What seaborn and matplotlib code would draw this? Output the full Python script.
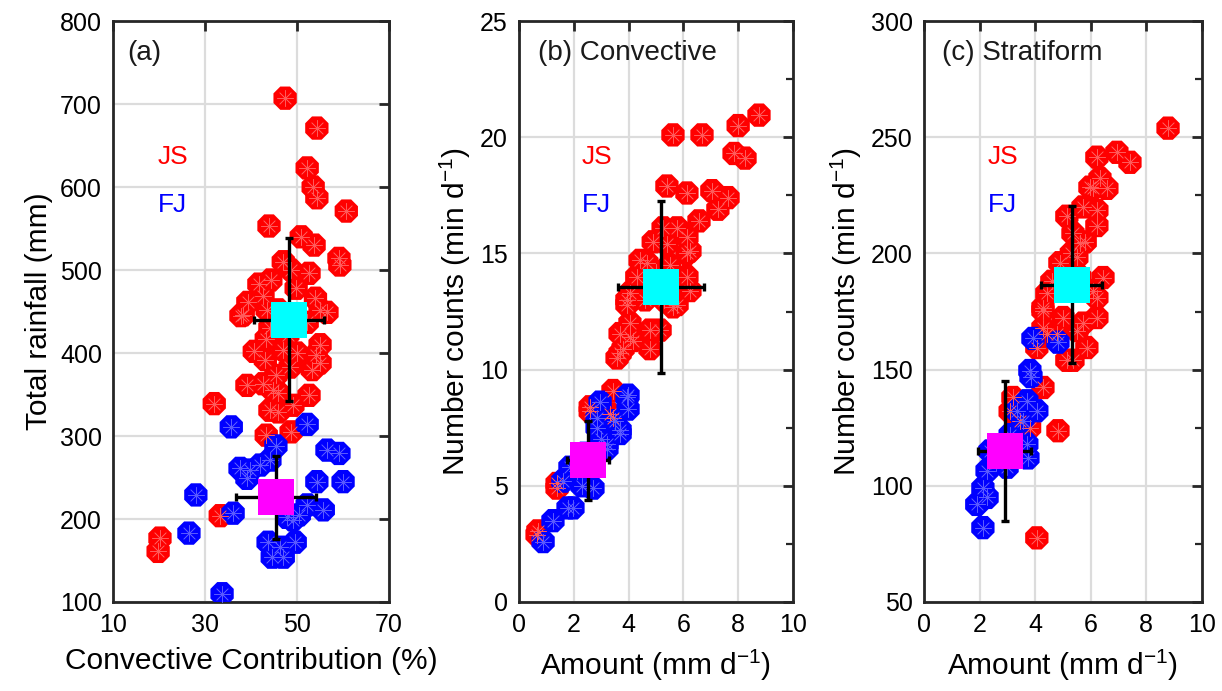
import numpy as np
import pandas as pd
import matplotlib
matplotlib.use("Agg")
import matplotlib.pyplot as plt
import seaborn as sns

# ---- data ----
# (a) convective contribution (%) vs total rainfall (mm)
a_js_x = [47.4, 54.3, 52.2, 53.5, 54.3, 60.7, 43.9, 50.9, 53.7, 59.1, 59.3, 47.0, 48.7, 52.6,
          44.3, 49.8, 54.0, 55.0, 41.7, 39.3, 42.6, 37.8, 45.9, 52.2, 44.1, 48.0, 55.0, 54.1,
          43.3, 40.7, 43.1, 48.5, 53.3, 45.4, 39.1, 45.9, 42.6, 52.6, 47.0, 44.1, 49.1, 43.3,
          48.7, 32.0, 33.3, 20.2, 19.8, 45.9, 55.0, 56.5, 43.5, 50.0, 44.8, 38.3]
a_js_y = [707, 671, 623, 600, 587, 571, 553, 540, 530, 514, 506, 510, 500, 496,
          488, 478, 466, 452, 483, 461, 469, 445, 452, 437, 430, 422, 410, 398,
          417, 402, 392, 383, 380, 373, 361, 352, 363, 349, 404, 331, 337, 301,
          305, 339, 204, 177, 161, 329, 388, 449, 452, 400, 355, 446]
a_fj_x = [33.7, 35.7, 52.2, 45.4, 37.6, 39.8, 42.0, 44.1, 39.1, 56.5, 59.1, 54.3, 60.0,
          28.0, 36.1, 26.5, 55.7, 52.2, 49.1, 47.8, 43.7, 49.6, 44.6, 47.0, 46.3, 50.5]
a_fj_y = [110, 311, 314, 288, 261, 259, 265, 271, 249, 283, 279, 245, 245,
          229, 207, 183, 211, 217, 199, 202, 172, 172, 154, 154, 166, 205]

# (b) convective amount (mm/d) vs number counts (min/d)
b_js_x = [8.76, 8.0, 5.62, 6.68, 7.85, 8.25, 5.4, 6.13, 7.04, 7.63, 7.26, 6.57, 5.77, 5.26,
          6.13, 5.4, 6.13, 4.67, 4.3, 6.13, 4.05, 6.24, 3.94, 5.77, 3.69, 4.78, 4.42, 3.94,
          4.05, 3.8, 3.58, 4.78, 4.16, 5.62, 5.15, 6.24, 3.69, 4.05, 3.43, 2.6, 3.32, 1.39,
          0.69, 2.6, 3.43, 0.66, 1.39, 5.0, 4.6, 5.3, 4.9, 5.5]
b_js_y = [20.95, 20.5, 20.1, 20.1, 19.3, 19.1, 17.9, 17.6, 17.7, 17.4, 16.9, 16.4, 16.1, 16.1,
          15.7, 15.4, 15.0, 14.6, 14.0, 14.0, 13.3, 13.4, 12.8, 12.8, 11.55, 11.7, 14.7, 13.0,
          12.0, 10.9, 10.5, 10.9, 11.25, 12.7, 11.7, 15.1, 10.7, 11.4, 9.1, 8.2, 8.1, 5.1,
          3.06, 8.4, 7.9, 2.9, 4.9, 14.2, 13.0, 13.0, 15.5, 14.5]
b_fj_x = [3.98, 3.98, 2.96, 3.69, 3.21, 2.85, 2.6, 2.7, 1.6, 2.1, 1.79, 1.24, 0.88,
          3.94, 3.69, 3.21, 1.97, 2.85, 1.86, 2.4, 3.0, 2.3, 3.5]
b_fj_y = [8.9, 8.3, 8.6, 7.4, 6.8, 7.5, 5.9, 4.9, 5.2, 5.65, 4.05, 3.5, 2.6,
          8.8, 7.25, 6.6, 4.05, 7.9, 5.8, 6.4, 7.0, 5.0, 7.8]

# (c) stratiform amount (mm/d) vs number counts (min/d)
c_js_x = [8.78, 6.22, 6.94, 7.41, 6.33, 6.08, 6.58, 6.22, 5.72, 5.14, 6.22, 5.36, 5.61, 4.89,
          5.5, 6.44, 6.22, 4.42, 4.28, 6.22, 5.0, 5.86, 4.28, 4.78, 5.5, 5.97, 5.72, 5.36,
          4.42, 6.08, 4.06, 4.28, 3.2, 3.45, 4.82, 4.06, 4.28, 3.1, 3.8, 5.14, 5.6, 4.6,
          5.3, 5.8]
c_js_y = [253.9, 241.4, 243.5, 239.2, 232.3, 228, 228, 218.5, 220, 216, 212, 208.6, 204.3, 196,
          198.3, 189.6, 181, 182.8, 176.7, 172.4, 172.4, 159.5, 168, 165.5, 166.8, 228.5, 170, 154,
          165.5, 184, 159.5, 142.3, 138, 128, 123.7, 77.6, 175.4, 132, 125, 154, 190, 188,
          200, 205]
c_fj_x = [3.92, 4.82, 3.81, 3.7, 3.34, 4.06, 3.56, 3.7, 3.74, 2.37, 2.27, 2.12, 1.9, 2.27,
          2.12, 2.99, 3.85, 2.6, 3.1]
c_fj_y = [163.4, 161.8, 149.6, 136.6, 132.3, 132.3, 128, 118, 112, 115, 106.5, 99, 92, 95,
          82, 108, 147, 110, 122]

# means and standard deviations (x, y, xerr, yerr)
a_js_mean = [48.3, 440, 7.6, 98]
a_fj_mean = [45.4, 226, 8.7, 50]
b_js_mean = [5.18, 13.55, 1.57, 3.7]
b_fj_mean = [2.52, 6.1, 0.78, 1.7]
c_js_mean = [5.32, 186.6, 1.1, 33.6]
c_fj_mean = [2.91, 115, 0.95, 30]

sns.set_style("white")
plt.rcParams['font.family'] = ['Liberation Sans', 'DejaVu Sans']
plt.rcParams['mathtext.fontset'] = 'custom'
plt.rcParams['mathtext.rm'] = 'Liberation Sans'

fig = plt.figure(figsize=(12.22, 6.91), dpi=100)
axes = [fig.add_axes([0.0925, 0.1288, 0.2259, 0.8408]),
        fig.add_axes([0.4247, 0.1288, 0.2242, 0.8408]),
        fig.add_axes([0.7561, 0.1288, 0.2275, 0.8408])]

panels = [
    (a_js_x, a_js_y, a_fj_x, a_fj_y, a_js_mean, a_fj_mean),
    (b_js_x, b_js_y, b_fj_x, b_fj_y, b_js_mean, b_fj_mean),
    (c_js_x, c_js_y, c_fj_x, c_fj_y, c_js_mean, c_fj_mean),
]
label_x = [0.163, 0.23, 0.23]

for ax, (jx, jy, fx, fy, jm, fm), lx in zip(axes, panels, label_x):
    df = pd.DataFrame({'x': jx + fx, 'y': jy + fy,
                       'region': ['JS'] * len(jx) + ['FJ'] * len(fx)})
    sns.scatterplot(data=df, x='x', y='y', hue='region', palette={'JS': 'red', 'FJ': 'blue'},
                    marker='8', s=330, linewidth=0, legend=False, ax=ax, zorder=3)
    # asterisk overlay like the original markers
    ax.scatter(jx, jy, marker=(8, 2, 0), s=130, color='#ff5a5a', linewidths=0.5, zorder=3)
    ax.scatter(fx, fy, marker=(8, 2, 0), s=130, color='#5a5aff', linewidths=0.5, zorder=3)
    for m, col in [(jm, 'cyan'), (fm, 'magenta')]:
        ax.errorbar(m[0], m[1], xerr=m[2], yerr=m[3], fmt='none', ecolor='black',
                    elinewidth=2.4, capsize=3, capthick=2.4, zorder=4)
        ax.scatter([m[0]], [m[1]], marker='s', s=640, color=col, linewidths=0, zorder=5)
    ax.text(lx, 0.766, 'JS', color='red', fontsize=19, transform=ax.transAxes, ha='left', va='center')
    ax.text(lx, 0.683, 'FJ', color='blue', fontsize=19, transform=ax.transAxes, ha='left', va='center')

# axis limits and ticks
axes[0].set_xlim(10, 70)
axes[0].set_ylim(100, 800)
axes[0].set_xticks([10, 30, 50, 70])
axes[0].set_yticks(np.arange(100, 801, 100))

axes[1].set_xlim(0, 10)
axes[1].set_ylim(0, 25)
axes[1].set_xticks(np.arange(0, 11, 2))
axes[1].set_yticks(np.arange(0, 26, 5))
axes[1].set_yticks(np.arange(0, 26, 2.5), minor=True)

axes[2].set_xlim(0, 10)
axes[2].set_ylim(50, 300)
axes[2].set_xticks(np.arange(0, 11, 2))
axes[2].set_yticks(np.arange(50, 301, 50))
axes[2].set_yticks(np.arange(50, 301, 25), minor=True)

lab = dict(fontsize=21.5, color='black')
axes[0].set_xlabel('Convective Contribution (%)', **lab)
axes[0].set_ylabel('Total rainfall (mm)', **lab)
axes[1].set_xlabel('Amount (mm d$^{-1}$)', **lab)
axes[1].set_ylabel('Number counts (min d$^{-1}$)', **lab)
axes[2].set_xlabel('Amount (mm d$^{-1}$)', **lab)
axes[2].set_ylabel('Number counts (min d$^{-1}$)', **lab)

titles = ['(a)', '(b) Convective', '(c) Stratiform']
title_x = [0.05, 0.069, 0.065]
for ax, t, tx in zip(axes, titles, title_x):
    ax.text(tx, 0.945, t, fontsize=20, transform=ax.transAxes, ha='left', va='center', color='#1a1a1a')
    ax.grid(True, which='major', color='#dcdcdc', linewidth=1.6)
    ax.set_axisbelow(True)
    for sp in ax.spines.values():
        sp.set_visible(True)
        sp.set_color('#262626')
        sp.set_linewidth(2)
    ax.tick_params(which='major', direction='in', length=7, width=2, top=True, right=True,
                   labelsize=18, color='#262626', labelcolor='black', pad=8)
    ax.tick_params(which='minor', direction='in', length=5, width=1.6, top=True, right=True,
                   color='#262626')
    ax.xaxis.labelpad = 7
    ax.yaxis.labelpad = 5

fig.savefig('out.png', dpi=100)
